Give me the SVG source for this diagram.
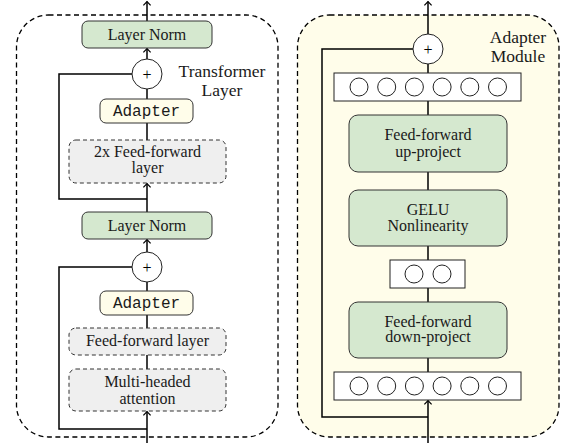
<svg xmlns="http://www.w3.org/2000/svg" width="562" height="443" viewBox="0 0 562 443">
<defs>
<marker id="arr" markerUnits="userSpaceOnUse" markerWidth="12" markerHeight="12" viewBox="-6 -6 12 12" refX="0" refY="0" orient="auto">
<path d="M-3.8,-3.6 L0,0 L-3.8,3.6" fill="none" stroke="#000" stroke-width="1.2"/>
</marker>
<style>
text{font-family:"Liberation Serif","Times New Roman",serif;font-size:16px;fill:#1a1a1a;text-anchor:middle}
.mono{font-family:"Liberation Mono","Courier New",monospace;font-size:16px}
.big{font-size:17.5px}
.pl{font-size:16px;fill:#000}
.outer{fill:#fff;stroke:#000;stroke-width:1.3;stroke-dasharray:5 3.5}
.outerY{fill:#fffdea;stroke:#000;stroke-width:1.3;stroke-dasharray:5 3.5}
.norm{fill:#d5e8cf;stroke:#333;stroke-width:1}
.adapt{fill:#fffdea;stroke:#333;stroke-width:1}
.ff{fill:#efefef;stroke:#333;stroke-width:1;stroke-dasharray:4 3}
.neur{fill:#fff;stroke:#222;stroke-width:1}
.plus{fill:#fff;stroke:#222;stroke-width:1}
.conn{fill:none;stroke:#000;stroke-width:1.5}
</style>
</defs>

<rect class="outer" x="16.5" y="15" width="261.5" height="422" rx="32"/>
<rect class="outerY" x="297.5" y="15" width="261.5" height="422" rx="32"/>

<g id="connectors">
<path class="conn" d="M147,59 V48.5" marker-end="url(#arr)"/>
<path class="conn" d="M147,21 V1.5" marker-end="url(#arr)"/>
<path class="conn" d="M147,89 V99 M147,123 V140"/>
<path class="conn" d="M132,74 H59 V199 H147"/>
<path class="conn" d="M147,212 V183.5" marker-end="url(#arr)"/>
<path class="conn" d="M147,252 V239.5" marker-end="url(#arr)"/>
<path class="conn" d="M147,282 V291 M147,315 V328 M147,355 V369"/>
<path class="conn" d="M132,267 H59 V429 H147"/>
<path class="conn" d="M147,443 V411.5" marker-end="url(#arr)"/>
<path class="conn" d="M428,34 V1.5" marker-end="url(#arr)"/>
<path class="conn" d="M428,64 V73 M428,101 V115 M428,172 V190 M428,246 V260 M428,288 V302 M428,358 V372"/>
<path class="conn" d="M413,49 H322 V417 H428"/>
<path class="conn" d="M428,443 V400.5" marker-end="url(#arr)"/>
</g>

<g id="layernorm-top">
<rect class="norm" x="82" y="21" width="130" height="27" rx="6"/>
<text x="147" y="40">Layer Norm</text>
</g>
<g id="plus-top">
<circle class="plus" cx="147" cy="74" r="15"/>
<text class="pl" x="147" y="79.5">+</text>
</g>
<g id="transformer-label">
<text class="big" x="222" y="76.5">Transformer</text>
<text class="big" x="222" y="95.5">Layer</text>
</g>
<g id="adapter-top">
<rect class="adapt" x="100" y="99" width="93" height="24" rx="6"/>
<text class="mono" x="146.5" y="116">Adapter</text>
</g>
<g id="ff2x">
<rect class="ff" x="69" y="140" width="157" height="43" rx="7"/>
<text x="147.5" y="157">2x Feed-forward</text>
<text x="147.5" y="172.5">layer</text>
</g>
<g id="layernorm-mid">
<rect class="norm" x="82" y="212" width="130" height="27" rx="6"/>
<text x="147" y="231">Layer Norm</text>
</g>
<g id="plus-mid">
<circle class="plus" cx="147" cy="267" r="15"/>
<text class="pl" x="147" y="272.5">+</text>
</g>
<g id="adapter-bottom">
<rect class="adapt" x="100" y="291" width="93" height="24" rx="6"/>
<text class="mono" x="146.5" y="308">Adapter</text>
</g>
<g id="ff-layer">
<rect class="ff" x="69" y="328" width="157" height="27" rx="7"/>
<text x="147.5" y="346">Feed-forward layer</text>
</g>
<g id="mha">
<rect class="ff" x="69" y="369" width="157" height="42" rx="7"/>
<text x="147.5" y="387">Multi-headed</text>
<text x="147.5" y="403.5">attention</text>
</g>

<g id="adapter-module-label">
<text class="big" x="518" y="43">Adapter</text>
<text class="big" x="518" y="62">Module</text>
</g>
<g id="plus-right">
<circle class="plus" cx="428" cy="49" r="15"/>
<text class="pl" x="428" y="54.5">+</text>
</g>
<g id="neurons-top">
<rect class="neur" x="334" y="73" width="187" height="28"/>
<circle class="neur" cx="359" cy="87" r="9"/>
<circle class="neur" cx="386.7" cy="87" r="9"/>
<circle class="neur" cx="414.4" cy="87" r="9"/>
<circle class="neur" cx="442.1" cy="87" r="9"/>
<circle class="neur" cx="469.8" cy="87" r="9"/>
<circle class="neur" cx="497.5" cy="87" r="9"/>
</g>
<g id="ff-up">
<rect class="norm" x="349" y="115" width="158" height="57" rx="9"/>
<text x="428" y="140">Feed-forward</text>
<text x="428" y="156.5">up-project</text>
</g>
<g id="gelu">
<rect class="norm" x="349" y="190" width="158" height="56" rx="9"/>
<text x="428" y="215">GELU</text>
<text x="428" y="231">Nonlinearity</text>
</g>
<g id="neurons-mid">
<rect class="neur" x="390" y="260" width="75" height="28"/>
<circle class="neur" cx="414" cy="274" r="9"/>
<circle class="neur" cx="442" cy="274" r="9"/>
</g>
<g id="ff-down">
<rect class="norm" x="349" y="302" width="158" height="56" rx="9"/>
<text x="428" y="326.5">Feed-forward</text>
<text x="428" y="342">down-project</text>
</g>
<g id="neurons-bottom">
<rect class="neur" x="334" y="372" width="187" height="28"/>
<circle class="neur" cx="359" cy="386" r="9"/>
<circle class="neur" cx="386.7" cy="386" r="9"/>
<circle class="neur" cx="414.4" cy="386" r="9"/>
<circle class="neur" cx="442.1" cy="386" r="9"/>
<circle class="neur" cx="469.8" cy="386" r="9"/>
<circle class="neur" cx="497.5" cy="386" r="9"/>
</g>
</svg>
